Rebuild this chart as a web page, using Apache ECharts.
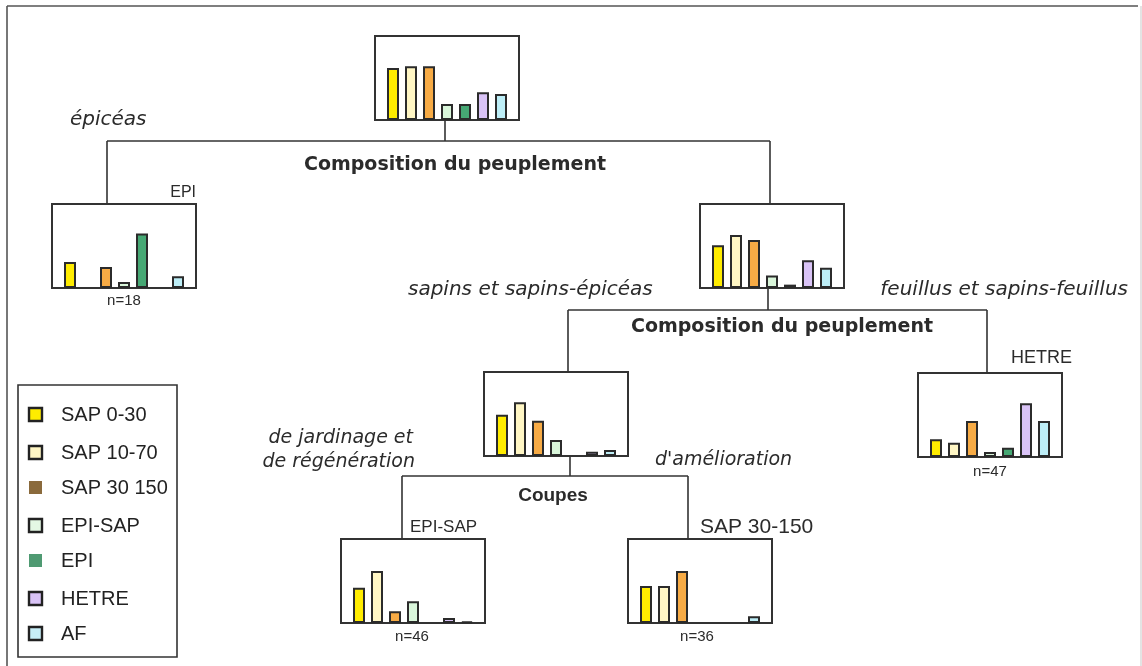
<!DOCTYPE html>
<html>
<head>
<meta charset="utf-8">
<script src="https://cdn.jsdelivr.net/npm/echarts@6/dist/echarts.min.js"></script>
<style>
  html, body { margin: 0; padding: 0; background: #fff; }
  #chart { width: 1142px; height: 666px; }
</style>
</head>
<body>
<div id="chart"></div>
<script>
// categories of the bars (same order in every box)
const categories = ['SAP 0-30', 'SAP 10-70', 'SAP 30 150', 'EPI-SAP', 'EPI', 'HETRE', 'AF']
const barColors = ['#ffec00', '#fff6c4', '#f7ab45', '#d9f6da', '#46a874', '#d9c3f6', '#bdeef7']

// bar heights per node (box height = 100)
const rootValues   = [62, 64, 64, 19, 19, 33, 31]
const epiValues    = [31, 0, 25, 7, 65, 0, 14]
const mixedValues  = [51, 63, 57, 15, 4, 33, 24]
const sapinValues  = [49, 64, 42, 19, 0, 5, 7]
const hetreValues  = [21, 17, 43, 6, 11, 64, 43]
const episapValues = [42, 62, 14, 26, 0, 6, 2]
const sap30Values  = [44, 44, 62, 0, 0, 0, 8]

// layout of the boxes
const BW = 144, BH = 84
const nodes = [
  { values: rootValues,   x: 375, y: 36 },
  { values: epiValues,    x: 52,  y: 204 },
  { values: mixedValues,  x: 700, y: 204 },
  { values: sapinValues,  x: 484, y: 372 },
  { values: hetreValues,  x: 918, y: 373 },
  { values: episapValues, x: 341, y: 539 },
  { values: sap30Values,  x: 628, y: 539 }
]

const FONT = '"Liberation Sans", Arial, sans-serif'
const WIDE = '"DejaVu Sans", sans-serif'
const INK = '#2b2b2b'

const grids = [], xAxes = [], yAxes = [], series = []
nodes.forEach((nd, i) => {
  grids.push({ left: nd.x, top: nd.y, width: BW, height: BH, show: true,
    borderColor: '#333', borderWidth: 2, backgroundColor: 'transparent' })
  xAxes.push({ type: 'value', gridIndex: i, min: -1, max: 7, show: false })
  yAxes.push({ type: 'value', gridIndex: i, min: 0, max: 100, show: false })
  series.push({
    type: 'bar', xAxisIndex: i, yAxisIndex: i, barWidth: 12, silent: true,
    data: nd.values.map((v, k) => ({ value: [k, v], itemStyle: { color: barColors[k] } }))
                   .filter(d => d.value[1] > 0),
    itemStyle: { borderColor: INK, borderWidth: 2 }
  })
})

// tree connectors
function seg(x1, y1, x2, y2, stroke) {
  return { type: 'line', shape: { x1, y1, x2, y2 }, style: { stroke: stroke || '#333', lineWidth: 1.6 } }
}
const graphic = [
  seg(7, 6, 1138, 6, '#555'), seg(7, 6, 7, 666, '#555'), seg(1141, 6, 1141, 666, '#ddd'),
  seg(445, 120, 445, 141), seg(107, 141, 770, 141), seg(107, 141, 107, 204), seg(770, 141, 770, 204),
  seg(768, 288, 768, 310), seg(568, 310, 987, 310), seg(568, 310, 568, 372), seg(987, 310, 987, 373),
  seg(570, 456, 570, 476), seg(402, 476, 688, 476), seg(402, 476, 402, 539), seg(688, 476, 688, 539)
]

function txt(text, x, y, opt) {
  return { type: 'text', x, y, style: Object.assign({
    text, fill: INK, font: '17px ' + FONT, textAlign: 'left', textVerticalAlign: 'middle'
  }, opt || {}) }
}
const ital = s => 'oblique ' + s + 'px ' + WIDE
const plain = s => s + 'px ' + FONT

graphic.push(
  txt('épicéas', 70, 120, { font: ital(20) }),
  txt('Composition du peuplement', 455, 165, { font: 'bold 19px ' + WIDE, textAlign: 'center' }),
  txt('EPI', 196, 193, { font: plain(16), textAlign: 'right' }),
  txt('n=18', 124, 301, { font: plain(15), textAlign: 'center' }),
  txt('sapins et sapins-épicéas', 408, 290, { font: ital(20) }),
  txt('feuillus et sapins-feuillus', 1128, 290, { font: ital(20), textAlign: 'right' }),
  txt('Composition du peuplement', 782, 327, { font: 'bold 19px ' + WIDE, textAlign: 'center' }),
  txt('HETRE', 1072, 358, { font: plain(18), textAlign: 'right' }),
  txt('n=47', 990, 472, { font: plain(15), textAlign: 'center' }),
  txt('de jardinage et', 413, 438, { font: ital(19), textAlign: 'right' }),
  txt('de régénération', 415, 462, { font: ital(19), textAlign: 'right' }),
  txt("d'amélioration", 655, 460, { font: ital(19) }),
  txt('Coupes', 553, 496, { font: 'bold 19px ' + FONT, textAlign: 'center' }),
  txt('EPI-SAP', 410, 527, { font: plain(17) }),
  txt('SAP 30-150', 700, 527, { font: plain(21) }),
  txt('n=46', 412, 637, { font: plain(15), textAlign: 'center' }),
  txt('n=36', 697, 637, { font: plain(15), textAlign: 'center' })
)

// legend box
const legendLabels = ['SAP 0-30', 'SAP 10-70', 'SAP 30 150', 'EPI-SAP', 'EPI', 'HETRE', 'AF']
const legendFill = ['#ffec00', '#fff6c4', '#8a6a3c', '#e4f8e4', '#4f9a72', '#d9c3f6', '#c7eef7']
const legendBorder = [true, true, false, true, false, true, true]
const legendY = [415, 453, 488, 526, 561, 599, 634]
graphic.push({ type: 'rect', shape: { x: 18, y: 385, width: 159, height: 272 },
  style: { fill: '#fff', stroke: '#333', lineWidth: 1.6 } })
legendLabels.forEach((lab, i) => {
  graphic.push({ type: 'rect', shape: { x: 29, y: legendY[i] - 7, width: 13, height: 13 },
    style: { fill: legendFill[i], stroke: legendBorder[i] ? '#222' : null, lineWidth: 2.4 } })
  graphic.push(txt(lab, 61, legendY[i], { font: plain(20), fill: '#222' }))
})

const chart = echarts.init(document.getElementById('chart'))
chart.setOption({
  animation: false,
  grid: grids,
  xAxis: xAxes,
  yAxis: yAxes,
  series: series,
  graphic: graphic
})
</script>
</body>
</html>
